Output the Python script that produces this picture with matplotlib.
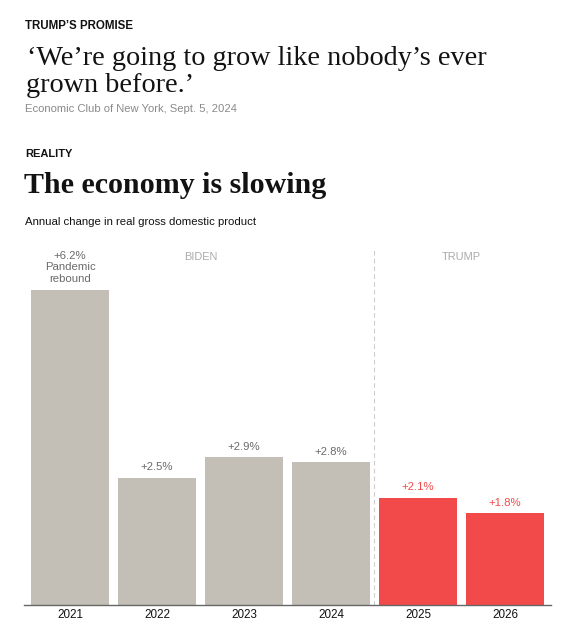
import matplotlib
matplotlib.use("Agg")
import matplotlib.pyplot as plt

years = ["2021", "2022", "2023", "2024", "2025", "2026"]
growth = [6.2, 2.5, 2.9, 2.8, 2.1, 1.8]
value_labels = ["+6.2%\nPandemic\nrebound", "+2.5%", "+2.9%", "+2.8%", "+2.1%", "+1.8%"]
is_trump = [False, False, False, False, True, True]
era_names = ["BIDEN", "TRUMP"]
era_centers = [1.5, 4.5]

W, H = 564, 625
fig = plt.figure(figsize=(W / 100, H / 100), dpi=100)
fig.patch.set_facecolor("white")

def px(x, y):
    return x / W, 1 - y / H

SANS = ["Liberation Sans", "DejaVu Sans"]
SERIF = ["Liberation Serif", "DejaVu Serif"]

fig.text(*px(25, 29), "TRUMP\u2019S PROMISE", family=SANS, fontsize=8.3,
         fontweight="bold", color="#121212", va="baseline", ha="left")
fig.text(*px(27, 65), "\u2018We\u2019re going to grow like nobody\u2019s ever", family=SERIF,
         fontsize=20.3, color="#121212", va="baseline", ha="left")
fig.text(*px(26, 92), "grown before.\u2019", family=SERIF,
         fontsize=20.3, color="#121212", va="baseline", ha="left")
fig.text(*px(25, 112), "Economic Club of New York, Sept. 5, 2024", family=SANS,
         fontsize=8.1, color="#8a8a8a", va="baseline", ha="left")
fig.text(*px(25, 157), "REALITY", family=SANS, fontsize=8.0,
         fontweight="bold", color="#121212", va="baseline", ha="left")
fig.text(*px(24, 193), "The economy is slowing", family=SERIF, fontsize=21.6,
         fontweight="bold", color="#121212", va="baseline", ha="left")
fig.text(*px(25, 225), "Annual change in real gross domestic product", family=SANS,
         fontsize=8.2, color="#121212", va="baseline", ha="left")

ax_l, ax_r, ax_t, ax_b = 24, 551, 240, 604.5
ax = fig.add_axes([ax_l / W, 1 - ax_b / H, (ax_r - ax_l) / W, (ax_b - ax_t) / H])
ax.set_xlim(-0.529, 5.529)
ax.set_ylim(0, (ax_b - ax_t) / 50.8)

xs = list(range(len(years)))
colors = ["#f24a4a" if t else "#c3bfb6" for t in is_trump]
ax.bar(xs, growth, width=0.9, color=colors, zorder=2)

PT = 0.72  # points per pixel at 100 dpi
for x, v, lab, t in zip(xs, growth, value_labels, is_trump):
    lines = lab.split("\n")
    n = len(lines)
    for i, line in enumerate(lines):
        off_px = 7.5 + (n - 1 - i) * 11.6
        ax.annotate(line, (x, v), xytext=(0, off_px * PT), textcoords="offset points",
                    ha="center", va="baseline", family=SANS, fontsize=8.2,
                    color="#f24a4a" if t else "#6b6b6b")

for name, c in zip(era_names, era_centers):
    ax.text(c, (ax_b - 260) / 50.8, name, ha="center", va="baseline", family=SANS,
            fontsize=7.9, color="#ababab")

ax.plot([3.5, 3.5], [0, (ax_b - 248) / 50.8], color="#cccccc", lw=0.8,
        ls=(0, (4, 3)), zorder=1)

for s in ["top", "right", "left"]:
    ax.spines[s].set_visible(False)
ax.spines["bottom"].set_color("#666666")
ax.spines["bottom"].set_linewidth(1.0)
ax.set_yticks([])
ax.set_xticks(xs)
ax.set_xticklabels(years, family=SANS, fontsize=8.4, color="#121212")
ax.tick_params(axis="x", length=0, pad=3.5)
ax.set_facecolor("none")

fig.savefig("out.png", dpi=100, facecolor="white")
